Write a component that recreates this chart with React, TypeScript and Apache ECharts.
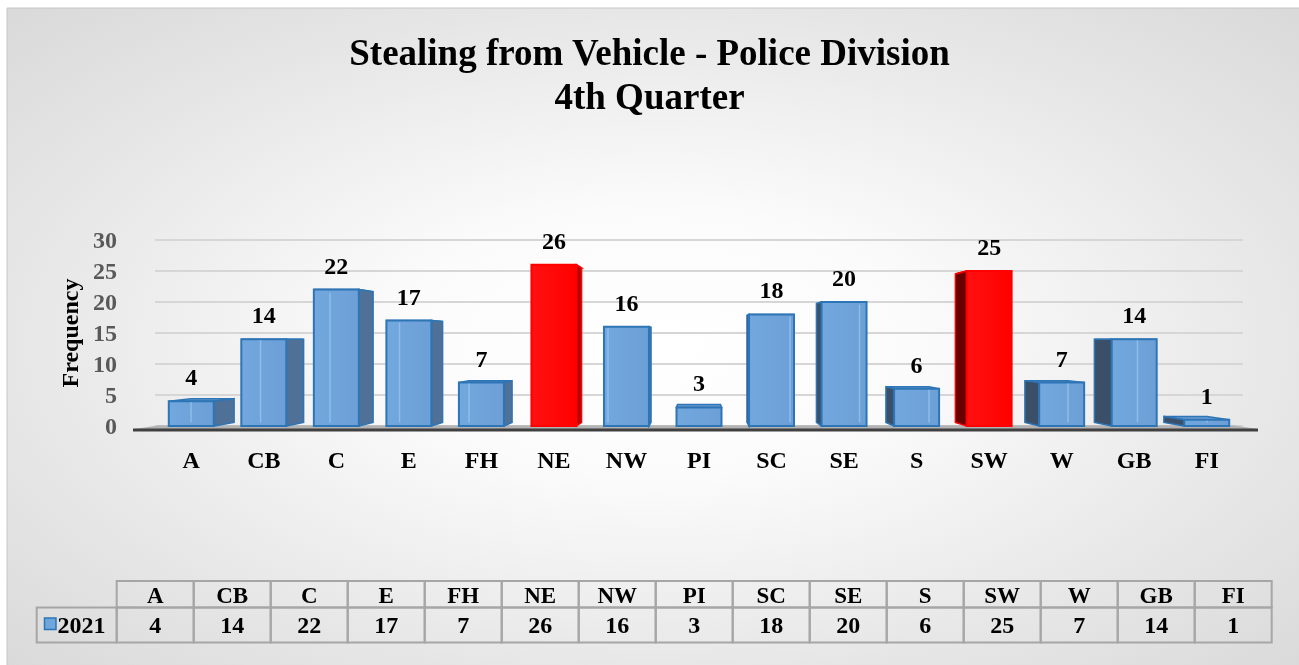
import React, { useEffect, useRef } from "react";
import * as echarts from "echarts";

const titleLines = ["Stealing from Vehicle - Police Division", "4th Quarter"];
const categories = ["A", "CB", "C", "E", "FH", "NE", "NW", "PI", "SC", "SE", "S", "SW", "W", "GB", "FI"];
const values2021 = [4, 14, 22, 17, 7, 26, 16, 3, 18, 20, 6, 25, 7, 14, 1];
const highlighted = ["NE", "SW"];
const seriesName = "2021";
const yTicks = { min: 0, max: 30, interval: 5 };
const yAxisName = "Frequency";

const FONT = "'Liberation Serif', 'Times New Roman', serif";

export default function App() {
  const ref = useRef<HTMLDivElement>(null);

  useEffect(() => {
    document.body.style.margin = "0";
    const chart = echarts.init(ref.current!, undefined, { renderer: "svg" });

    const K = 0.042;

    const renderItem = (params: any, api: any) => {
      const i = api.value(0);
      const v = api.value(1);
      const cs = params.coordSys;
      const VP = [cs.x + cs.width * 0.5, cs.y + cs.height * 0.54];
      const top = api.coord([i, v]);
      const base = api.coord([i, 0]);
      const bw = api.size([1, 0])[0] * 0.62;
      const x0 = top[0] - bw / 2;
      const x1 = top[0] + bw / 2;
      const yT = top[1];
      const yB = base[1];
      const back = (x: number, y: number) => [x + (VP[0] - x) * K, y + (VP[1] - y) * K];
      const b0T = back(x0, yT), b1T = back(x1, yT), b0B = back(x0, yB), b1B = back(x1, yB);
      const red = highlighted.indexOf(categories[i]) >= 0;
      const stroke = red ? "#ff0000" : "#2e75b6";
      const children: any[] = [];
      children.push({
        type: "polygon",
        shape: { points: [[x0, yT], [x1, yT], b1T, b0T] },
        style: { fill: red ? "#e00000" : "#6a9bd0", stroke, lineWidth: 1.5 },
      });
      if (b1T[0] > x1 + 0.5) {
        children.push({
          type: "polygon",
          shape: { points: [[x1, yT], b1T, b1B, [x1, yB]] },
          style: { fill: red ? "#b00000" : "#4f7097", stroke, lineWidth: 1.5 },
        });
      } else if (b0T[0] < x0 - 0.5) {
        children.push({
          type: "polygon",
          shape: { points: [[x0, yT], b0T, b0B, [x0, yB]] },
          style: { fill: red ? "#680000" : "#3b5068", stroke, lineWidth: 1.5 },
        });
      }
      children.push({
        type: "rect",
        shape: { x: x0, y: yT, width: bw, height: yB - yT },
        style: {
          fill: new echarts.graphic.LinearGradient(0, 0, 1, 0, [
            { offset: 0, color: red ? "#ff1010" : "#72a8de" },
            { offset: 1, color: red ? "#ff0000" : "#6c9fd6" },
          ]),
          stroke,
          lineWidth: 2,
        },
      });
      if (!red) {
        const ex = b1T[0] > x1 + 0.5 ? b0T[0] : b0T[0] < x0 - 0.5 ? b1T[0] : null;
        if (ex !== null) {
          children.push({
            type: "line",
            shape: { x1: ex, y1: Math.max(b0T[1], yT) + 1, x2: ex, y2: b0B[1] },
            style: { stroke: "rgba(150,195,238,0.8)", lineWidth: 1.5 },
          });
        }
      }
      children.push({
        type: "text",
        style: {
          text: String(v),
          x: top[0],
          y: yT - 12,
          align: "center",
          verticalAlign: "bottom",
          fontSize: 24,
          fontWeight: "bold",
          fontFamily: FONT,
          fill: "#000000",
        },
      });
      return { type: "group", children };
    };

    const tableX = 116.7, colW = 77, hdrY = 581, hdrH = 26.5, rowY = 607.5, rowH = 35, legX = 36.7;
    const tableEls: any[] = [];
    categories.forEach((c, i) => {
      const x = tableX + colW * i;
      tableEls.push({
        type: "rect",
        shape: { x, y: hdrY, width: colW, height: hdrH },
        style: { fill: "none", stroke: "#a6a6a6", lineWidth: 2 },
        z: 5,
      });
      tableEls.push({
        type: "rect",
        shape: { x, y: rowY, width: colW, height: rowH },
        style: { fill: "none", stroke: "#a6a6a6", lineWidth: 2 },
        z: 5,
      });
      tableEls.push({
        type: "text",
        style: {
          text: c, x: x + colW / 2, y: hdrY + hdrH / 2 + 1, align: "center", verticalAlign: "middle",
          fontSize: 23, fontWeight: "bold", fontFamily: FONT, fill: "#000",
        },
        z: 6,
      });
      tableEls.push({
        type: "text",
        style: {
          text: String(values2021[i]), x: x + colW / 2, y: rowY + rowH / 2, align: "center", verticalAlign: "middle",
          fontSize: 24, fontWeight: "bold", fontFamily: FONT, fill: "#000",
        },
        z: 6,
      });
    });
    tableEls.push({
      type: "rect",
      shape: { x: legX, y: rowY, width: tableX - legX, height: rowH },
      style: { fill: "none", stroke: "#a6a6a6", lineWidth: 2 },
      z: 5,
    });
    tableEls.push({
      type: "rect",
      shape: { x: 44.5, y: 618, width: 11.5, height: 11.5 },
      style: { fill: "#6fa6dc", stroke: "#2e75b6", lineWidth: 1.5 },
      z: 6,
    });
    tableEls.push({
      type: "text",
      style: {
        text: seriesName, x: 57.5, y: rowY + rowH / 2, align: "left", verticalAlign: "middle",
        fontSize: 24, fontWeight: "bold", fontFamily: FONT, fill: "#000",
      },
      z: 6,
    });

    const floorL = 135, floorR = 1257, floorY = 429, vpx = 699, vpy = 340;
    const floorBack = (x: number) => [x + (vpx - x) * 0.042, floorY + (vpy - floorY) * 0.042];

    chart.setOption({
      animation: false,
      title: {
        text: titleLines.join("\n"),
        left: "center",
        top: 25,
        textStyle: { fontSize: 37, fontWeight: "bold", fontFamily: FONT, color: "#000", lineHeight: 44 },
      },
      graphic: [
        {
          type: "rect",
          z: -10,
          shape: { x: 7, y: 8, width: 1300, height: 670 },
          style: {
            fill: new echarts.graphic.RadialGradient(0.5, 0.5, 1, [
              { offset: 0, color: "#ffffff" },
              { offset: 0.2, color: "#fbfbfb" },
              { offset: 0.5, color: "#e6e6e6" },
              { offset: 0.8, color: "#d3d3d3" },
              { offset: 1, color: "#c3c3c3" },
            ]),
            stroke: "#c6c6c6",
            lineWidth: 1,
          },
        },
        {
          type: "polygon",
          z: 1,
          shape: { points: [[floorL, floorY], [floorR, floorY], floorBack(floorR), floorBack(floorL)] },
          style: { fill: "#b3b3b3" },
        },
        {
          type: "line",
          z: 1,
          shape: { x1: floorL - 2, y1: floorY + 1, x2: floorR + 1, y2: floorY + 1 },
          style: { stroke: "#404040", lineWidth: 3 },
        },
        ...tableEls,
      ],
      grid: { left: 155, right: 56, top: 240, bottom: 239, containLabel: false },
      xAxis: {
        type: "category",
        data: categories,
        axisLine: { show: false },
        axisTick: { show: false },
        axisLabel: { color: "#000", fontSize: 24, fontWeight: "bold", fontFamily: FONT, margin: 22 },
      },
      yAxis: {
        type: "value",
        min: yTicks.min,
        max: yTicks.max,
        interval: yTicks.interval,
        name: yAxisName,
        nameLocation: "middle",
        nameGap: 70,
        nameTextStyle: { color: "#000", fontSize: 24, fontWeight: "bold", fontFamily: FONT },
        axisLine: { show: false },
        axisTick: { show: false },
        axisLabel: { color: "#595959", fontSize: 24, fontWeight: "bold", fontFamily: FONT, margin: 38 },
        splitLine: { lineStyle: { color: "#d6d6d6", width: 2 } },
      },
      series: [
        {
          name: seriesName,
          type: "custom",
          renderItem,
          encode: { x: 0, y: 1 },
          data: values2021.map((v, i) => [i, v]),
          z: 3,
        },
      ],
    });

    return () => chart.dispose();
  }, []);

  return (
    <div
      ref={ref}
      style={{ position: "fixed", left: 0, top: 0, width: 1299, height: 665 }}
    />
  );
}
